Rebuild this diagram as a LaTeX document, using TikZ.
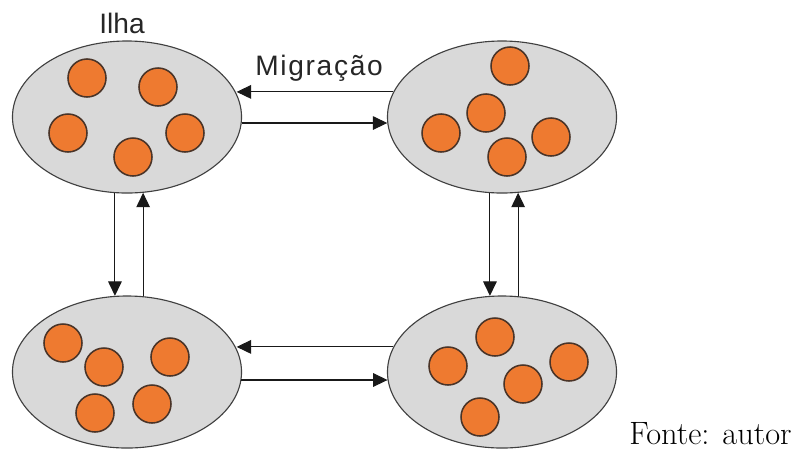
\documentclass[tikz,border=0pt]{standalone}
\usepackage{fontspec}
\newfontfamily\fonterotulo{Liberation Sans}
\usetikzlibrary{shapes.geometric,arrows.meta}

\definecolor{ilhacinza}{HTML}{D9D9D9}
\definecolor{laranja}{HTML}{EE7A30}
\definecolor{bordaind}{HTML}{4A3428}

\tikzset{
    ilha/.style={ellipse, draw=black!75, fill=ilhacinza, line width=0.8pt,
        minimum width=5.725cm, minimum height=3.8cm, inner sep=0pt},
    indiv/.style={circle, draw=bordaind, fill=laranja, line width=1.1pt,
        minimum size=0.95cm, inner sep=0pt},
    fluxo/.style={-{Triangle[length=0.36cm,width=0.34cm]}, line width=0.75pt, black!90},
    rotulo/.style={font=\fonterotulo\fontsize{20}{24}\selectfont, text=black!85, inner sep=0pt}
}

\begin{document}
\begin{tikzpicture}[x=0.025cm, y=-0.025cm]
    \useasboundingbox (0,0) rectangle (800,450);

    % Ilhas
    \node[ilha] (ilhaA) at (127,117) {};
    \node[ilha] (ilhaB) at (502,117) {};
    \node[ilha] (ilhaC) at (127,372) {};
    \node[ilha] (ilhaD) at (502,372) {};

    % Individuos de cada ilha
    \foreach \x/\y [count=\k] in {87/78, 158/87, 68/133, 185/133, 133/157,
                                  510/66, 486/113, 441/133, 551/137, 507/157,
                                  63/343, 104/367, 170/357, 95/413, 152/404,
                                  495/337, 448/366, 569/362, 523/384, 480/417}
        \node[indiv] (ind\k) at (\x,\y) {};

    % Migracao entre ilhas
    \draw[fluxo] (ilhaB.167.5) -- (ilhaB.167.5 -| ilhaA.12.5);
    \draw[fluxo] (ilhaA.-3) -- (ilhaA.-3 -| ilhaB.183);
    \draw[fluxo] (ilhaD.167.5) -- (ilhaD.167.5 -| ilhaC.12.5);
    \draw[fluxo] (ilhaC.-4) -- (ilhaC.-4 -| ilhaD.184);
    \draw[fluxo] (ilhaA.261) -- (ilhaA.261 |- ilhaC.99);
    \draw[fluxo] (ilhaC.78) -- (ilhaC.78 |- ilhaA.282);
    \draw[fluxo] (ilhaB.261) -- (ilhaB.261 |- ilhaD.99);
    \draw[fluxo] (ilhaD.78) -- (ilhaD.78 |- ilhaB.282);

    % Rotulos
    \node[rotulo, anchor=base] (lblilha) at (122,33) {Ilha};
    \node[rotulo, anchor=base west] (lblmigr) at (255,75) {\addfontfeature{LetterSpace=6}Migração};
    \node[anchor=base west, inner sep=0pt, font=\fontsize{23}{27}\selectfont] (fonte) at (629,444) {Fonte: autor};
\end{tikzpicture}
\end{document}
